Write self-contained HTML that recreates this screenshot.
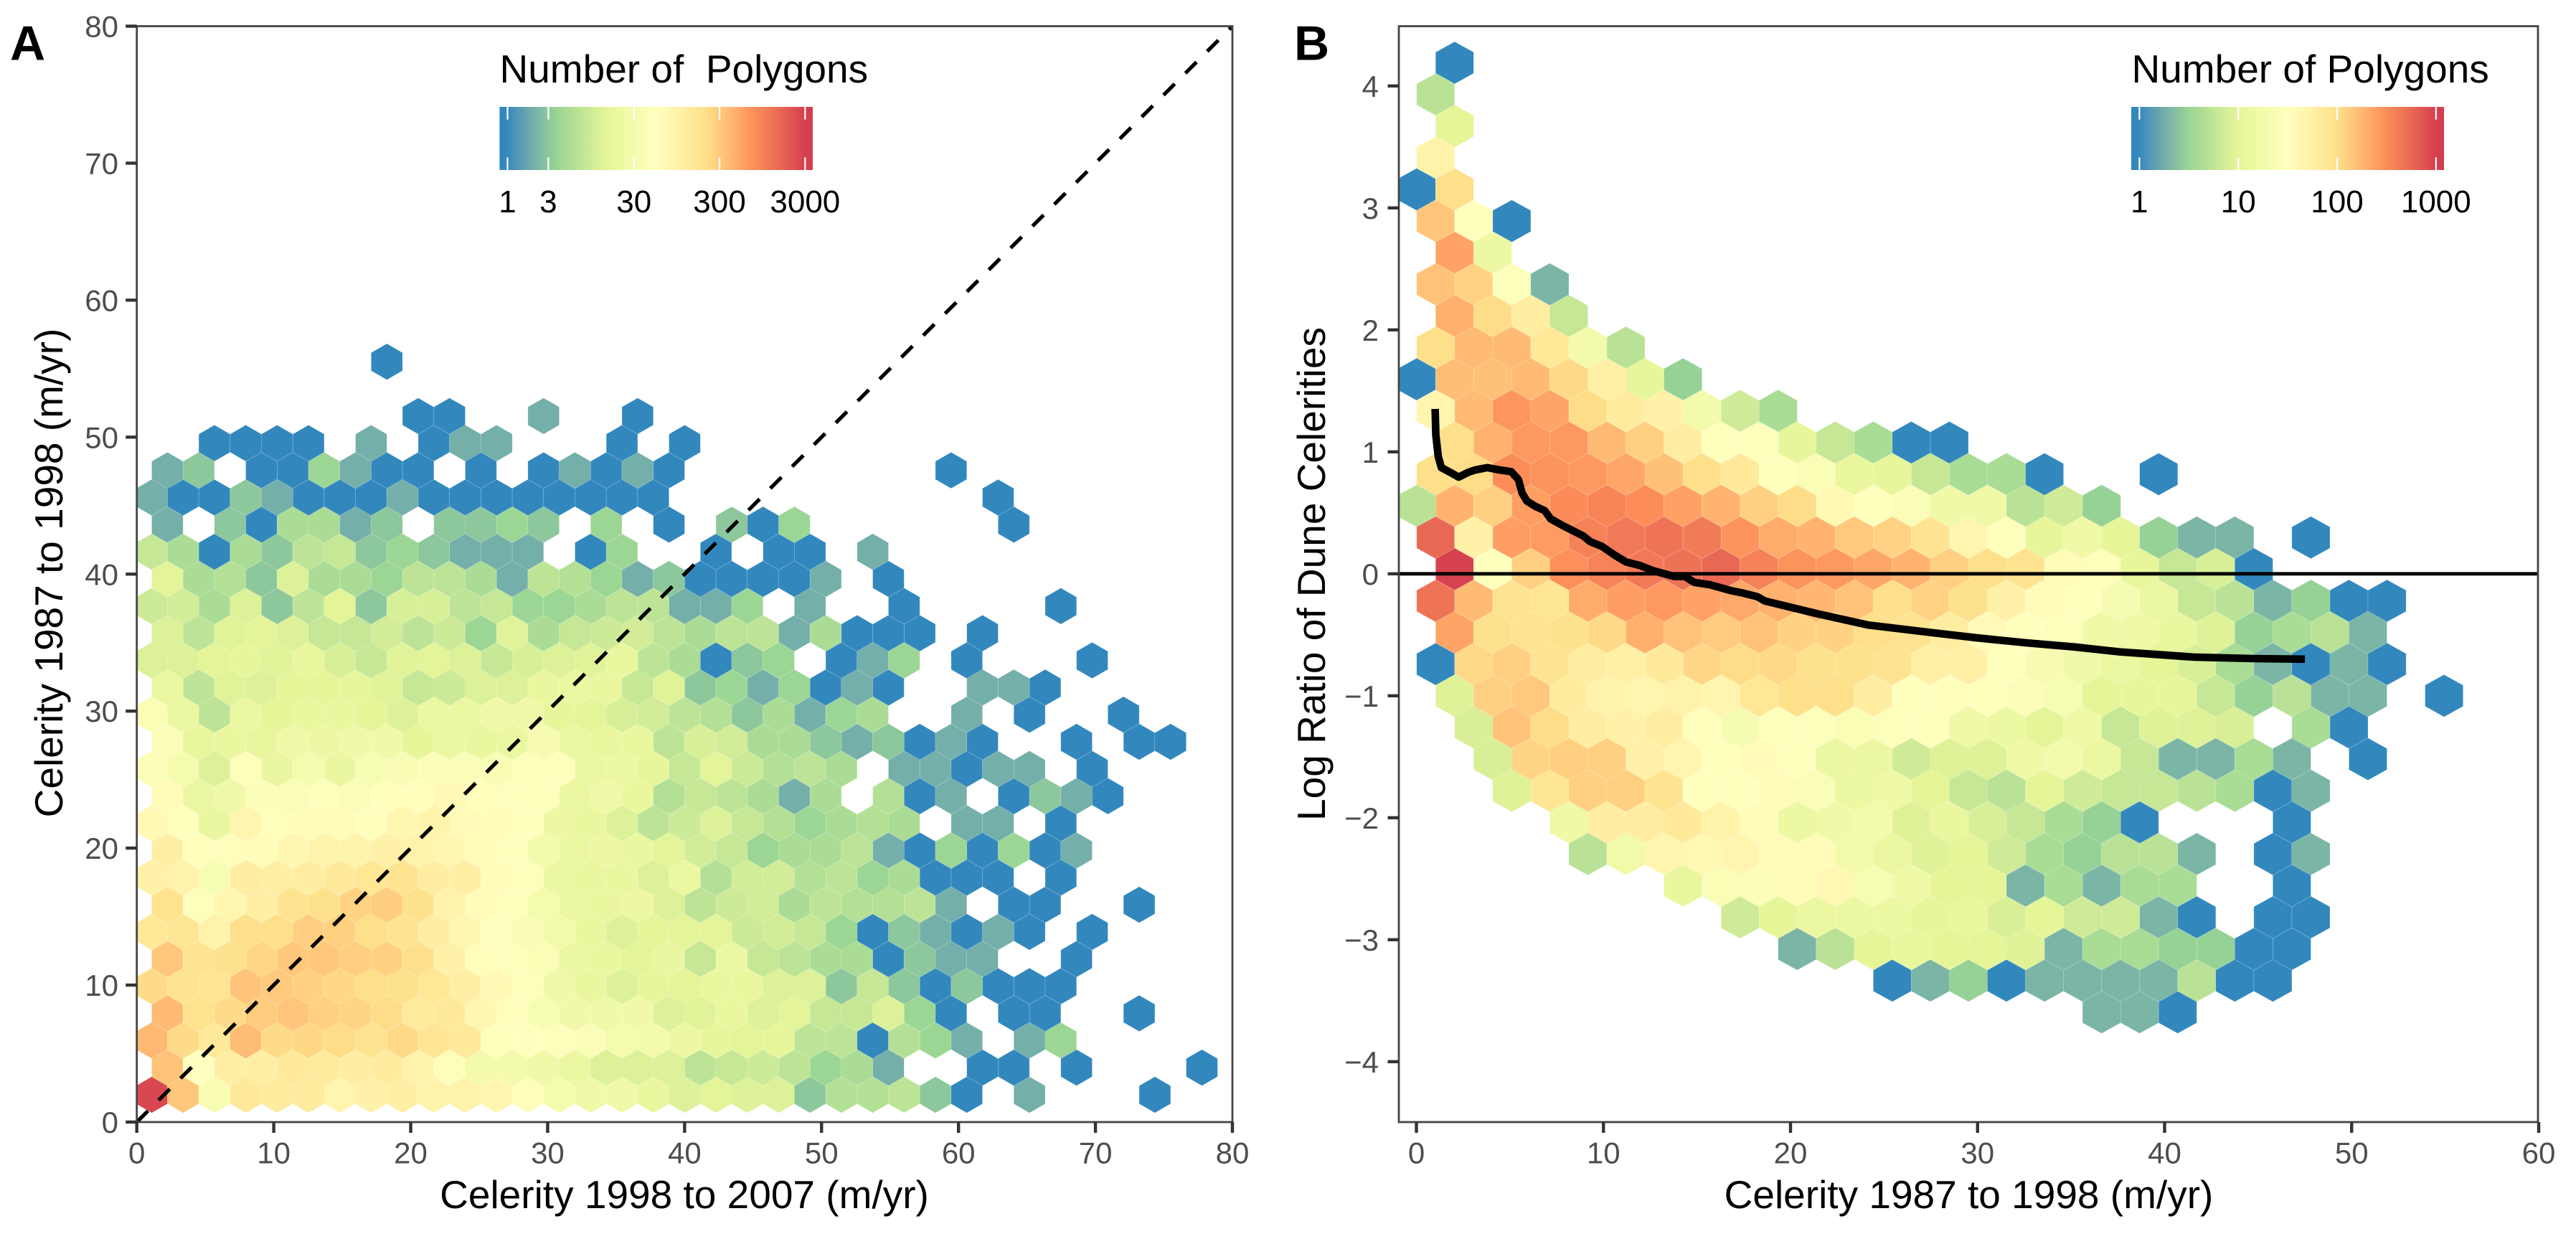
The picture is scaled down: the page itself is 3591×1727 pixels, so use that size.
<!DOCTYPE html>
<html lang="en">
<head>
<meta charset="utf-8">
<title>Dune celerity hexbin charts</title>
<style>
html,body{margin:0;padding:0;background:#fff;}
svg{display:block;}
text{font-family:"Liberation Sans",Arial,sans-serif;}
</style>
</head>
<body>
<svg id="figure" xmlns="http://www.w3.org/2000/svg" width="3591" height="1727" viewBox="0 0 3591 1727">
  <defs>
    <clipPath id="clip-a"><rect x="190.7" y="36.5" width="1527.3" height="1527.5"/></clipPath>
    <clipPath id="clip-b"><rect x="1950" y="36.5" width="1588" height="1527.5"/></clipPath>
    <linearGradient id="grad-a" gradientUnits="userSpaceOnUse" x1="696.4" x2="1133" y1="0" y2="0"></linearGradient>
    <linearGradient id="grad-b" gradientUnits="userSpaceOnUse" x1="2971" x2="3407" y1="0" y2="0"></linearGradient>
  </defs>
  <rect x="0" y="0" width="3591" height="1727" fill="#fff"/>

  <text x="14" y="83.5" font-size="68" font-weight="700" fill="#000">A</text>
  <text x="1804" y="83.5" font-size="68" font-weight="700" fill="#000">B</text>

  <g id="panel-a">
    <g id="hexes-a" clip-path="url(#clip-a)"></g>
    <line id="ref-line" stroke="#000" stroke-width="5.2" stroke-dasharray="22 21.07" clip-path="url(#clip-a)"/>
    <rect x="190.7" y="36.5" width="1527.3" height="1527.5" fill="none" stroke="#444" stroke-width="2.8"/>
    <g id="axes-a"></g>
    <text x="954" y="1684" font-size="55" text-anchor="middle" fill="#000">Celerity 1998 to 2007 (m/yr)</text>
    <text transform="translate(87,798.5) rotate(-90)" font-size="55" text-anchor="middle" fill="#000">Celerity 1987 to 1998 (m/yr)</text>
    <text x="696.5" y="115" font-size="55" fill="#000" xml:space="preserve" style="white-space:pre">Number of  Polygons</text>
    <rect x="696.4" y="149" width="436.6" height="88" fill="url(#grad-a)"/>
    <g id="legend-a"></g>
  </g>

  <g id="panel-b">
    <g id="hexes-b" clip-path="url(#clip-b)"></g>
    <line id="zero-line" stroke="#000" stroke-width="4.8"/>
    <path id="trend-line" fill="none" stroke="#000" stroke-width="10.6" stroke-linejoin="round" stroke-linecap="butt" clip-path="url(#clip-b)"/>
    <rect x="1950" y="36.5" width="1588" height="1527.5" fill="none" stroke="#444" stroke-width="2.8"/>
    <g id="axes-b"></g>
    <text x="2744.5" y="1684" font-size="55" text-anchor="middle" fill="#000">Celerity 1987 to 1998 (m/yr)</text>
    <text transform="translate(1847,800) rotate(-90)" font-size="55" text-anchor="middle" fill="#000">Log Ratio of Dune Celerities</text>
    <text x="2971.5" y="115" font-size="55" fill="#000">Number of Polygons</text>
    <rect x="2971" y="149" width="436" height="88" fill="url(#grad-b)"/>
    <g id="legend-b"></g>
  </g>
</svg>
<script>
/* ---------- chart data ---------- */
const xTicksA = [0,10,20,30,40,50,60,70,80];
const yTicksA = [0,10,20,30,40,50,60,70,80];
const xTicksB = [0,10,20,30,40,50,60];
const yTicksB = [-4,-3,-2,-1,0,1,2,3,4];
const legendBreaksA = [1,3,30,300,3000];
const legendBreaksB = [1,10,100,1000];
const refLine = [0,80];
const zeroLine = [0];

/* panel A: polygon count per hexagon, rows bottom to top, columns left to right */
const rowsA = [
[2600,312,35,139,124,132,85,100,110,90,95,85,60,30,25,24,18,12,14,12,12,3,6,6,7,3,1,0,2,0,0,0,1],
[337,55,110,110,139,132,116,124,90,50,28,28,24,20,12,12,12,7,8,9,7,4,5,2,0,0,1,1,0,1,0,0,0,1],
[398,226,139,374,226,239,219,177,233,169,139,52,55,50,42,30,28,22,16,14,16,7,7,1,6,4,2,0,2,4],
[386,191,226,292,324,266,253,219,132,139,80,60,36,26,24,26,12,13,18,12,14,8,8,12,4,1,0,1,1,0,0,1],
[226,184,169,331,299,266,239,212,198,155,110,70,50,25,18,12,16,14,18,18,12,12,3,8,3,1,3,1,1,1],
[312,177,198,246,312,312,279,266,205,100,60,50,40,20,18,14,19,8,20,8,7,5,5,1,3,2,2,0,0,1],
[147,162,90,212,212,279,273,212,184,116,80,55,38,27,18,12,15,14,14,9,10,8,4,1,3,2,1,2,1,0,1],
[191,50,80,110,177,198,260,286,198,90,65,50,30,20,18,22,12,7,9,10,5,7,6,6,7,2,0,1,1,0,0,1],
[100,90,36,116,110,116,139,155,177,116,110,62,50,20,18,18,12,20,6,10,10,6,7,4,5,1,1,1,0,1],
[110,58,60,64,78,90,88,100,90,78,62,52,28,20,22,19,14,10,8,4,5,5,7,2,1,4,1,4,1,2],
[70,52,19,85,50,62,66,58,80,88,68,63,52,22,18,12,7,9,12,8,6,4,5,6,5,0,2,2,0,1],
[65,20,24,45,42,48,42,58,58,70,58,50,48,20,24,18,6,8,7,5,2,5,0,6,1,2,0,1,3,2,1],
[45,30,12,50,19,32,19,36,38,45,42,38,46,52,20,21,16,8,14,9,6,7,5,0,2,2,1,2,2,0,1],
[42,17,18,17,24,22,24,24,15,20,18,20,34,20,18,18,7,11,10,5,5,3,2,3,1,2,1,0,0,1,0,1,1],
[40,20,7,20,15,18,18,15,12,20,20,24,26,16,14,11,10,7,6,3,5,2,4,5,0,0,2,0,1,0,0,1],
[20,7,13,12,15,15,16,13,8,9,12,12,18,20,18,8,13,3,4,2,4,1,2,1,0,0,2,2,1],
[12,12,14,16,13,17,11,8,13,14,12,8,11,12,13,17,7,5,1,3,4,0,1,2,4,0,1,0,0,0,1],
[12,7,13,14,12,8,8,10,7,9,4,13,5,8,9,10,7,5,7,7,2,5,1,1,1,0,1],
[9,10,5,12,3,7,14,3,11,11,7,8,4,4,5,7,7,2,2,4,0,2,0,0,1,0,0,0,0,1],
[14,5,6,3,12,5,5,4,7,7,5,2,7,6,4,2,3,1,1,1,1,2,0,1],
[8,5,1,5,3,7,8,3,4,3,2,2,2,0,1,4,0,0,1,0,1,1,0,2],
[2,0,3,1,5,5,2,3,0,3,3,4,3,0,4,0,1,0,3,1,4,0,0,0,0,0,0,1],
[2,1,1,3,2,1,1,1,2,1,1,1,1,1,1,1,1,0,0,0,0,0,0,0,0,0,0,1],
[2,3,0,1,1,4,2,1,1,0,1,0,1,2,1,2,1,0,0,0,0,0,0,0,0,1],
[0,0,1,1,1,1,0,2,0,1,2,2,0,0,0,1,0,1],
[0,0,0,0,0,0,0,0,1,1,0,0,2,0,0,1],
[],
[0,0,0,0,0,0,0,1]
];

/* panel B: polygon count per hexagon, rows top to bottom, columns left to right */
const rowsB = [
[0,1],
[5],
[0,10],
[50],
[1,100],
[144,30,1],
[0,235,14],
[153,120,28,2],
[0,198,105,62,6],
[100,171,171,75,18,5],
[1,162,158,171,110,55,11,3],
[45,171,279,234,105,65,52,18,7,4],
[0,100,189,270,270,171,125,62,30,30,11,6,4,1,1],
[100,105,315,297,270,225,158,100,70,30,24,12,11,6,4,4,1,0,0,1],
[5,189,125,252,324,360,315,243,189,126,105,40,32,25,15,15,5,7,3],
[560,52,252,261,378,432,468,423,288,207,189,140,120,85,45,30,11,15,10,3,2,2,0,1],
[0,950,32,126,306,369,432,477,560,378,297,270,225,189,125,100,88,37,27,11,6,8,1],
[468,171,85,80,207,252,270,239,216,194,180,153,100,120,95,52,35,32,20,13,6,5,2,3,1,1],
[0,234,95,90,95,110,198,153,135,153,122,122,100,90,60,38,32,28,15,15,12,9,3,4,5,2],
[1,110,126,85,60,55,70,115,105,110,95,95,90,55,55,32,21,16,13,10,8,4,2,1,2,1],
[0,9,125,140,65,50,45,50,45,78,100,100,60,32,33,32,26,22,10,11,11,6,3,5,2,2,0,1],
[0,8,149,105,62,52,60,33,20,30,28,24,28,30,15,14,10,15,6,9,9,8,0,4,1],
[0,0,8,118,130,125,52,45,32,38,30,13,13,7,9,9,15,18,13,6,2,2,4,2,0,1],
[0,0,9,80,125,125,88,32,30,36,25,14,15,10,6,5,10,7,6,6,5,4,1,2],
[0,0,0,0,15,60,62,68,50,35,14,16,18,9,12,8,6,4,3,1,0,0,0,1],
[0,0,0,0,5,17,45,42,45,35,36,17,13,9,10,7,4,3,5,5,2,0,1,2],
[0,0,0,0,0,0,0,12,24,26,36,42,22,15,10,10,2,4,2,4,4,0,0,1],
[0,0,0,0,0,0,0,0,7,10,13,14,14,11,12,8,10,7,7,2,1,0,1,1],
[0,0,0,0,0,0,0,0,0,0,2,5,10,12,10,10,9,2,4,4,3,3,1,1],
[0,0,0,0,0,0,0,0,0,0,0,0,1,2,3,1,2,2,2,2,5,1,1],
[0,0,0,0,0,0,0,0,0,0,0,0,0,0,0,0,0,0,2,2,1]
];

/* panel B: smoothed trend through the data */
const curveX = [1.00,1.04,1.17,1.336,1.81,2.257,2.768,3.152,3.791,4.43,5.07,5.453,5.645,5.90,6.348,6.86,7.18,7.88,8.906,9.289,9.928,10.57,11.207,11.97,12.61,13.76,14.34,14.85,15.68,16.83,17.47,18.24,18.62,21.49,24.13,27.66,30.0,32.6,35.2,37.6,41.56,44.8,47.5];
const curveY = [1.352,1.136,0.96,0.871,0.832,0.793,0.832,0.852,0.871,0.852,0.838,0.773,0.665,0.597,0.554,0.518,0.45,0.391,0.312,0.264,0.224,0.156,0.097,0.067,0.028,-0.021,-0.021,-0.07,-0.089,-0.138,-0.158,-0.188,-0.222,-0.329,-0.419,-0.484,-0.526,-0.566,-0.60,-0.64,-0.683,-0.695,-0.70];

/* colour scale limits */
const maxCountA = 3000;
const maxCountB = 1000;
const palette = ['#3288BD','#99D594','#E6F598','#FFFFBF','#FEE08B','#FC8D59','#D53E4F'];

/* ---------- scales ---------- */
const NS = 'http://www.w3.org/2000/svg';
function linear(d0,d1,r0,r1){ return v => r0 + (v-d0)/(d1-d0)*(r1-r0); }
const xA = linear(0,80,190.7,1718);
const yA = linear(0,80,1564,36.5);
const xB = linear(-0.94,60,1950,3539);
const yB = linear(-4.495,4.49,1564,36.5);

/* Lab interpolation, as the original gradient uses */
function hexToLab(h){
  const c=[1,3,5].map(i=>parseInt(h.substr(i,2),16)/255).map(v=>v>0.04045?Math.pow((v+0.055)/1.055,2.4):v/12.92);
  const X=(0.4124*c[0]+0.3576*c[1]+0.1805*c[2])/0.95047,Y=0.2126*c[0]+0.7152*c[1]+0.0722*c[2],Z=(0.0193*c[0]+0.1192*c[1]+0.9505*c[2])/1.08883;
  const f=t=>t>0.008856?Math.cbrt(t):7.787*t+16/116;
  return [116*f(Y)-16,500*(f(X)-f(Y)),200*(f(Y)-f(Z))];
}
function labToCss(l){
  const fy=(l[0]+16)/116,fx=fy+l[1]/500,fz=fy-l[2]/200;
  const g=t=>t*t*t>0.008856?t*t*t:(t-16/116)/7.787;
  const X=g(fx)*0.95047,Y=g(fy),Z=g(fz)*1.08883;
  const rgb=[3.2406*X-1.5372*Y-0.4986*Z,-0.9689*X+1.8758*Y+0.0415*Z,0.0557*X-0.204*Y+1.057*Z];
  return 'rgb('+rgb.map(v=>{v=Math.max(0,Math.min(1,v));v=v>0.0031308?1.055*Math.pow(v,1/2.4)-0.055:12.92*v;return Math.round(v*255);}).join(',')+')';
}
const paletteLab = palette.map(hexToLab);
function colourAt(t){
  t=Math.max(0,Math.min(1,t))*(palette.length-1);
  const i=Math.min(palette.length-2,Math.floor(t)),f=t-i;
  return labToCss(paletteLab[i].map((v,k)=>v+(paletteLab[i+1][k]-v)*f));
}

/* ---------- hexagons: odd rows sit half a bin to the right of even rows ---------- */
function drawHexes(groupId,rows,maxCount,xs,ys,binX,binY,x0,y0,dirY){
  const g=document.getElementById(groupId);
  const hw=Math.abs(xs(binX)-xs(0))/2;
  const hh=Math.abs(ys(0)-ys(binY))/1.5;
  rows.forEach((row,r)=>{
    row.forEach((count,c)=>{
      if(!count) return;
      const cx=xs(x0+binX*(c+(r%2?0.5:0)));
      const cy=ys(y0+dirY*binY*r);
      const pts=[[0,-hh],[hw,-hh/2],[hw,hh/2],[0,hh],[-hw,hh/2],[-hw,-hh/2]].map(p=>(cx+p[0]).toFixed(1)+','+(cy+p[1]).toFixed(1)).join(' ');
      const el=document.createElementNS(NS,'polygon');
      
      
      el.setAttribute('points',pts);
      const col=colourAt(Math.log10(count)/Math.log10(maxCount));
      el.setAttribute('fill',col);
      el.setAttribute('stroke','rgba(255,255,255,0.25)');
      el.setAttribute('stroke-width','0.7');
      g.appendChild(el);
    });
  });
}
drawHexes('hexes-a',rowsA,maxCountA,xA,yA,2.289,1.982,1.09,1.99,1);
drawHexes('hexes-b',rowsB,maxCountB,xB,yB,2.0345,0.2595,0.01,4.19,-1);

/* ---------- reference lines and trend ---------- */
const ref=document.getElementById('ref-line');
ref.setAttribute('x1',xA(refLine[0]));
ref.setAttribute('y1',yA(refLine[0]));
ref.setAttribute('x2',xA(refLine[1]));
ref.setAttribute('y2',yA(refLine[1]));
const zero=document.getElementById('zero-line');
zero.setAttribute('x1',1950);
zero.setAttribute('x2',3538);
zero.setAttribute('y1',yB(zeroLine[0]));
zero.setAttribute('y2',yB(zeroLine[0]));
document.getElementById('trend-line').setAttribute('d',curveX.map((v,i)=>(i?'L':'M')+xB(v).toFixed(1)+' '+yB(curveY[i]).toFixed(1)).join(' '));

/* ---------- axes ---------- */
function addLine(parent,name,x1,y1,x2,y2,stroke,width){
  const el=document.createElementNS(NS,'line');
  
  
  el.setAttribute('x1',x1);
  el.setAttribute('y1',y1);
  el.setAttribute('x2',x2);
  el.setAttribute('y2',y2);
  el.setAttribute('stroke',stroke);
  el.setAttribute('stroke-width',width);
  parent.appendChild(el);
}
function addText(parent,name,x,y,str,size,fill,anchor){
  const el=document.createElementNS(NS,'text');
  
  
  el.setAttribute('x',x);
  el.setAttribute('y',y);
  el.setAttribute('font-size',size);
  el.setAttribute('fill',fill);
  el.setAttribute('text-anchor',anchor);
  el.textContent=str;
  parent.appendChild(el);
}
function drawAxes(groupId,xTicks,yTicks,xs,ys,left,labelRight){
  const g=document.getElementById(groupId);
  xTicks.forEach(v=>{
    addLine(g,'x-axis-tick',xs(v),1564,xs(v),1579,'#333',4.4);
    addText(g,'x-tick-label',xs(v),1621.5,String(v),42,'#4D4D4D','middle');
  });
  yTicks.forEach(v=>{
    addLine(g,'y-axis-tick',left-15.5,ys(v),left,ys(v),'#333',4.4);
    addText(g,'y-tick-label',labelRight,ys(v)+15,String(v).replace('-','\u2212'),42,'#4D4D4D','end');
  });
}
drawAxes('axes-a',xTicksA,yTicksA,xA,yA,190.7,165);
drawAxes('axes-b',xTicksB,yTicksB,xB,yB,1950,1922);

/* ---------- colour bars ---------- */
function drawLegend(gradId,groupId,breaks,maxCount,barLeft,barRight,onePx,decadePx){
  const grad=document.getElementById(gradId);
  const steps=60;
  for(let i=0;i<=steps;i++){
    const px=barLeft+(barRight-barLeft)*i/steps;
    const lg=(px-onePx)/decadePx;
    const stop=document.createElementNS(NS,'stop');
    stop.setAttribute('offset',(i/steps).toFixed(4));
    stop.setAttribute('stop-color',colourAt(lg/Math.log10(maxCount)));
    grad.appendChild(stop);
  }
  const g=document.getElementById(groupId);
  breaks.forEach(b=>{
    const x=onePx+decadePx*Math.log10(b);
    addLine(g,'legend-tick',x,149,x,166.6,'#fff',2.2);
    addLine(g,'legend-tick',x,219.4,x,237,'#fff',2.2);
    addText(g,'legend-label',x,296,String(b),44,'#000','middle');
  });
}
drawLegend('grad-a','legend-a',legendBreaksA,maxCountA,696.4,1133,707.5,119.3);
drawLegend('grad-b','legend-b',legendBreaksB,maxCountB,2971,3407,2982.4,137.8);
</script>
</body>
</html>
